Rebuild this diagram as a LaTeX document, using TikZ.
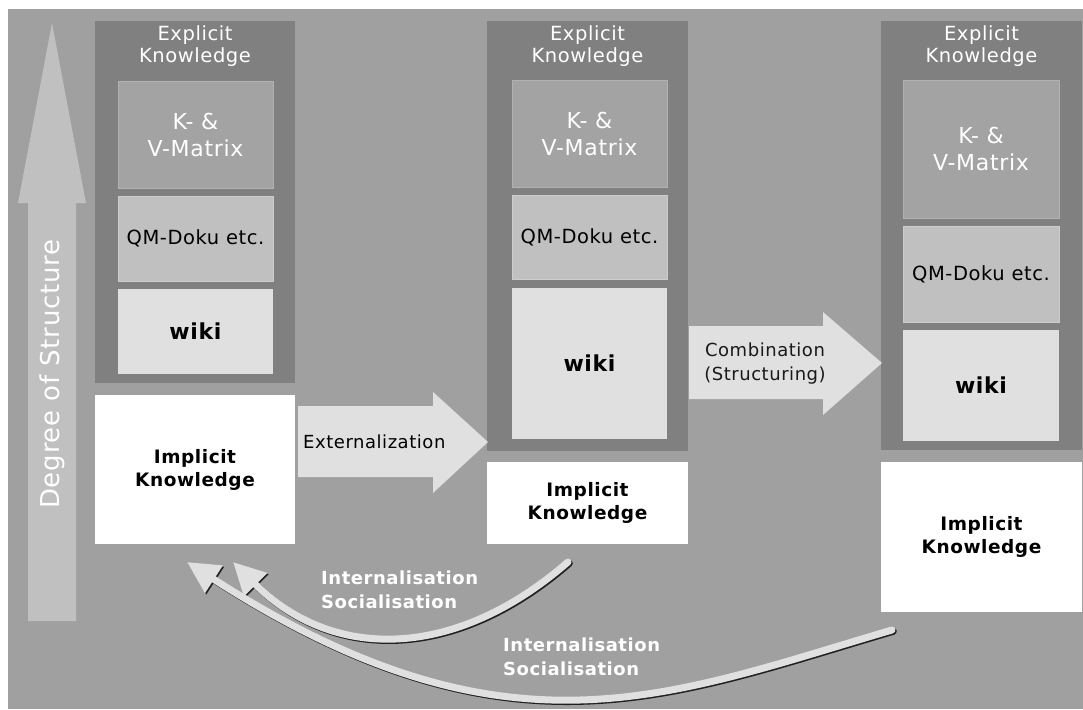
\documentclass[tikz,border=0pt]{standalone}
\usepackage{fontspec}
\setmainfont{DejaVu Sans}[LetterSpace=3]
\usetikzlibrary{arrows.meta}
\definecolor{bg}{HTML}{A0A0A0}
\definecolor{darkcol}{HTML}{808080}
\definecolor{kcol}{HTML}{A3A3A3}
\definecolor{qcol}{HTML}{C0C0C0}
\definecolor{wcol}{HTML}{E0E0E0}
\definecolor{arrcol}{HTML}{E0E0E0}
\definecolor{degcol}{HTML}{C0C0C0}
\definecolor{shad}{HTML}{202020}
\tikzset{
  box/.style={rectangle, inner sep=0pt, outer sep=0pt, align=center},
  darkbox/.style={box, fill=darkcol},
  kbox/.style={box, fill=kcol, draw=qcol!50!kcol, line width=0.8pt, text=white, font=\fontsize{22}{27}\selectfont},
  qbox/.style={box, fill=qcol, draw=wcol!40!qcol, line width=0.8pt, text=black, font=\fontsize{19.5}{23}\selectfont},
  wbox/.style={box, fill=wcol, text=black, font=\bfseries\fontsize{22}{26}\selectfont},
  ibox/.style={box, fill=white, text=black, font=\bfseries\fontsize{18.5}{23}\selectfont},
  wtxt/.style={inner sep=0pt, align=center, text=white, font=\fontsize{19.5}{22}\selectfont},
  btxt/.style={inner sep=0pt, align=center, text=black, font=\fontsize{18}{24}\selectfont},
  itxt/.style={inner sep=0pt, align=left, text=white, font=\bfseries\fontsize{18}{24}\selectfont},
  curvarr/.style={draw=arrcol, line width=7pt, line cap=round,
    -{Triangle[length=32pt,width=31pt]}, fill=none},
  curvshad/.style={draw=shad, line width=7pt, line cap=round,
    -{Triangle[length=32pt,width=31pt]},
    transform canvas={shift={(1.3pt,-1.3pt)}}},
}
\begin{document}
\begin{tikzpicture}[x=1pt,y=-1pt]
\useasboundingbox (0,0) rectangle (1083,709);
\fill[white] (0,0) rectangle (1083,709);
\fill[bg] (8,9) rectangle (1083,709);

% Degree of structure arrow
\fill[degcol] (28,621) -- (28,203) -- (18,203) -- (52,23) -- (86,203) -- (76,203) -- (76,621) -- cycle;
\node[inner sep=0pt, rotate=90, text=white, font=\fontsize{26}{30}\selectfont] (deg) at (52,374) {Degree of Structure};

% Column 1
\node[darkbox, minimum width=200pt, minimum height=362pt] (d1) at (195,202) {};
\node[wtxt] (e1) at (195,46) {Explicit\\Knowledge};
\node[kbox, minimum width=155pt, minimum height=107pt] (k1) at (195.5,134.5) {K- \&\\V-Matrix};
\node[qbox, minimum width=155pt, minimum height=85pt] (q1) at (195.5,238.5) {QM-Doku etc.};
\node[wbox, minimum width=155pt, minimum height=85pt] (w1) at (195.5,331.5) {wiki};
\node[ibox, minimum width=200pt, minimum height=149pt] (i1) at (195,469.5) {Implicit\\Knowledge};

% Column 2
\node[darkbox, minimum width=201pt, minimum height=430pt] (d2) at (587.5,236) {};
\node[wtxt] (e2) at (587.5,46) {Explicit\\Knowledge};
\node[kbox, minimum width=155pt, minimum height=107pt] (k2) at (589.5,133.5) {K- \&\\V-Matrix};
\node[qbox, minimum width=155pt, minimum height=84pt] (q2) at (589.5,237) {QM-Doku etc.};
\node[wbox, minimum width=155pt, minimum height=151pt] (w2) at (589.5,363.5) {wiki};
\node[ibox, minimum width=201pt, minimum height=82pt] (i2) at (587.5,503) {Implicit\\Knowledge};

% Column 3
\node[darkbox, minimum width=201pt, minimum height=429pt] (d3) at (981.5,235.5) {};
\node[wtxt] (e3) at (981.5,46) {Explicit\\Knowledge};
\node[kbox, minimum width=156pt, minimum height=138pt] (k3) at (981,149) {K- \&\\V-Matrix};
\node[qbox, minimum width=156pt, minimum height=96pt] (q3) at (981,274) {QM-Doku etc.};
\node[wbox, minimum width=156pt, minimum height=111pt] (w3) at (981,385.5) {wiki};
\node[ibox, minimum width=201pt, minimum height=150pt] (i3) at (981.5,537) {Implicit\\Knowledge};

% Externalization block arrow
\fill[arrcol] (298,406) -- (433,406) -- (433,392) -- (488,442) -- (433,493) -- (433,477) -- (298,477) -- cycle;
\node[btxt, anchor=west] (ext) at (303,442) {Externalization};

% Combination block arrow
\fill[arrcol] (689,326) -- (823,326) -- (823,312) -- (882,363) -- (823,415) -- (823,399) -- (689,399) -- cycle;
\node[btxt, text=black!90] (comb) at (765,364) {Combination\\(Structuring)};

% Curved arrows
\coordinate (a1s) at (568,562);
\coordinate (a1e) at (233,562);
\coordinate (a2s) at (892,630);
\coordinate (a2e) at (187,562);
\draw[curvshad] (a1s) .. controls (454,661) and (332,661) .. (a1e);
\draw[curvarr] (a1s) .. controls (454,661) and (332,661) .. (a1e);
\draw[curvshad] (a2s) .. controls (667,696) and (507,768) .. (a2e);
\draw[curvarr] (a2s) .. controls (667,696) and (507,768) .. (a2e);

\node[itxt, anchor=west] (int1) at (321,590) {Internalisation\\Socialisation};
\node[itxt, anchor=west] (int2) at (503,657) {Internalisation\\Socialisation};
\end{tikzpicture}
\end{document}
